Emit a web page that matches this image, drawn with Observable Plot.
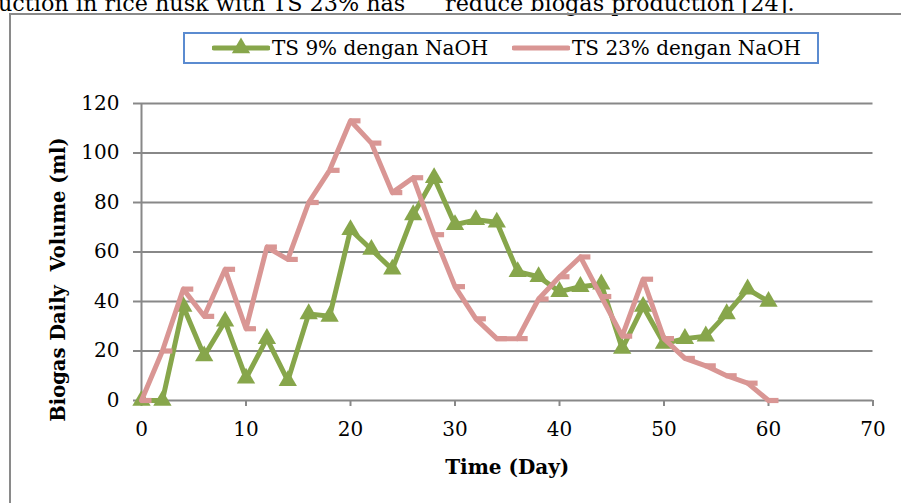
<!DOCTYPE html>
<html>
<head>
<meta charset="utf-8">
<script src="https://cdn.jsdelivr.net/npm/d3@7"></script>
<script src="https://cdn.jsdelivr.net/npm/@observablehq/plot@0.6"></script>
<style>
  html, body { margin: 0; padding: 0; background: #fff; }
  #page { position: relative; width: 901px; height: 503px; overflow: hidden; background: #fff; font-family: "DejaVu Serif", serif; }
  .body-text { position: absolute; font-size: 22.3px; line-height: 22px; white-space: pre; color: #000; }
  #frame { position: absolute; left: 9px; top: 13px; width: 1000px; height: 600px; border: 2px solid #8a8a8a; box-sizing: border-box; }
  #legend { position: absolute; left: 183px; top: 32px; width: 636px; height: 32px; border: 2px solid #5b8bd0; box-sizing: border-box; background: #fff; font-size: 20px; color: #000; }
  #legend .item { position: absolute; top: 0; height: 28px; display: flex; align-items: center; white-space: pre; }
  #chart { position: absolute; left: 0; top: 80px; }
</style>
</head>
<body>
<div id="page">
  <div class="body-text" id="t1" style="left:-2px; top:-8px;"></div>
  <div class="body-text" id="t2" style="left:445px; top:-8px;"></div>
  <div id="frame"></div>
  <div id="chart"></div>
  <div id="legend"></div>
</div>
<script>
// ---- data ----
const bodyText = ["uction in rice husk with TS 23% has", "reduce biogas production [24]."];
const seriesNames = ["TS 9% dengan NaOH", "TS 23% dengan NaOH"];
const days = [0, 2, 4, 6, 8, 10, 12, 14, 16, 18, 20, 22, 24, 26, 28, 30, 32, 34, 36, 38, 40, 42, 44, 46, 48, 50, 52, 54, 56, 58, 60];
const ts9 = [0, 0, 38, 18, 32, 9, 25, 8, 35, 34, 69, 61, 53, 75, 90, 71, 73, 72, 52, 50, 44, 46, 47, 21, 38, 23, 25, 26, 35, 45, 40];
const ts23 = [0, 20, 45, 34, 53, 29, 62, 57, 80, 93, 113, 104, 84, 90, 67, 46, 33, 25, 25, 41, 50, 58, 42, 26, 49, 25, 17, 14, 10, 7, 0];
const xTicks = [0, 10, 20, 30, 40, 50, 60, 70];
const yTicks = [0, 20, 40, 60, 80, 100, 120];
const xTitle = "Time (Day)";
const yTitle = "Biogas Daily\u00a0 Volume (ml)";

const green = "#87a64b";
const pink = "#d99694";
const grey = "#888888";

document.getElementById("t1").textContent = bodyText[0];
document.getElementById("t2").textContent = bodyText[1];

const d9 = days.map((d, i) => ({day: d, v: ts9[i]}));
const d23 = days.map((d, i) => ({day: d, v: ts23[i]}));

// dash marker extending to the right of the point
const dashSymbol = { draw(ctx, size) { ctx.moveTo(-1, -2.6); ctx.lineTo(10, -2.6); ctx.lineTo(10, 2.6); ctx.lineTo(-1, 2.6); ctx.closePath(); } };

const chart = Plot.plot({
  width: 901,
  height: 423,
  marginLeft: 141,
  marginRight: 28.5,
  marginTop: 23,
  marginBottom: 103,
  x: {domain: [0, 70]},
  y: {domain: [0, 120]},
  style: {fontFamily: "DejaVu Serif", fontSize: "20px", color: "#000", background: "transparent", overflow: "visible"},
  marks: [
    Plot.gridY(yTicks, {stroke: grey, strokeOpacity: 1, strokeWidth: 2}),
    Plot.ruleX([0], {stroke: grey, strokeWidth: 2}),
    Plot.axisY(yTicks, {tickSize: 8, tickPadding: 14, stroke: grey, strokeWidth: 2, fill: "#000", label: null, tickFormat: d => String(d)}),
    Plot.axisX(xTicks, {tickSize: 6, tickPadding: 15, stroke: grey, strokeWidth: 2, fill: "#000", label: null, tickFormat: d => String(d)}),
    Plot.line(d9, {x: "day", y: "v", stroke: green, strokeWidth: 5, strokeLinejoin: "round", strokeLinecap: "round"}),
    Plot.dot(d9, {x: "day", y: "v", symbol: "triangle", r: 6.8, fill: green, stroke: "none"}),
    Plot.line(d23, {x: "day", y: "v", stroke: pink, strokeWidth: 5, strokeLinejoin: "round", strokeLinecap: "round"}),
    Plot.dot(d23, {x: "day", y: "v", symbol: dashSymbol, r: 5, fill: pink, stroke: "none"}),
    Plot.text([yTitle], {frameAnchor: "left", textAnchor: "middle", lineAnchor: "middle", rotate: -90, dx: -83, dy: 27.5, fontWeight: "bold", fontSize: 19.5, fill: "#000"}),
    Plot.text([xTitle], {frameAnchor: "bottom", textAnchor: "middle", lineAnchor: "middle", dy: 67, fontWeight: "bold", fontSize: 20, fill: "#000"})
  ]
});
document.getElementById("chart").appendChild(chart);

// legend
const legend = document.getElementById("legend");
function addItem(left, color, triangle, label) {
  const item = document.createElement("div");
  item.className = "item";
  item.style.left = left + "px";
  const ns = "http://www.w3.org/2000/svg";
  const svg = document.createElementNS(ns, "svg");
  svg.setAttribute("width", 58); svg.setAttribute("height", 24);
  const ln = document.createElementNS(ns, "line");
  ln.setAttribute("x1", 2); ln.setAttribute("x2", 56); ln.setAttribute("y1", 12); ln.setAttribute("y2", 12);
  ln.setAttribute("stroke", color); ln.setAttribute("stroke-width", 5); ln.setAttribute("stroke-linecap", "round");
  svg.appendChild(ln);
  if (triangle) {
    const p = document.createElementNS(ns, "path");
    p.setAttribute("d", d3.symbol(d3.symbolTriangle, Math.PI * 6.8 * 6.8)());
    p.setAttribute("transform", "translate(29,12)");
    p.setAttribute("fill", color);
    svg.appendChild(p);
  }
  item.appendChild(svg);
  const sp = document.createElement("span");
  sp.textContent = label;
  sp.style.marginLeft = "2px";
  item.appendChild(sp);
  legend.appendChild(item);
}
addItem(27, green, true, seriesNames[0]);
addItem(327, pink, false, seriesNames[1]);
</script>
</body>
</html>
